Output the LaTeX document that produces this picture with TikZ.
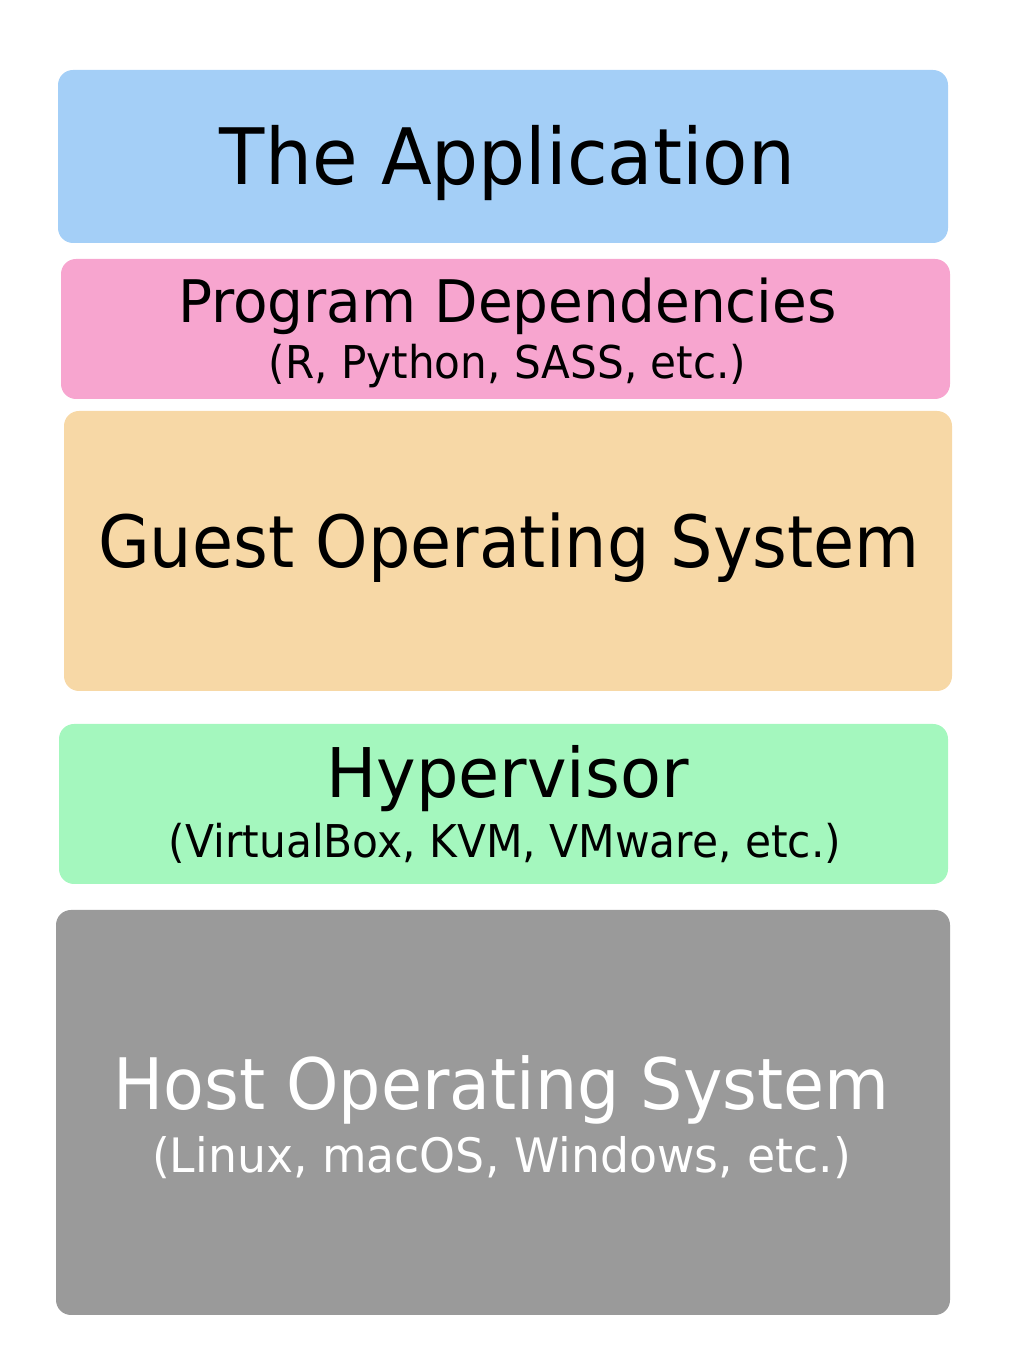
\documentclass[tikz,border=0pt]{standalone}
\usepackage{fontspec}
\setmainfont{DejaVu Sans}
\usetikzlibrary{positioning}
\definecolor{AzulCapa}{HTML}{A4CFF7}
\definecolor{RosaCapa}{HTML}{F7A5CF}
\definecolor{NaranjaCapa}{HTML}{F7D8A6}
\definecolor{VerdeCapa}{HTML}{A4F7BE}
\definecolor{GrisCapa}{HTML}{9A9A9A}
% tamano y ancho de letra
\newcommand{\tam}[2]{\fontsize{#1}{1.2\dimexpr#1\relax}\addfontfeatures{FakeStretch=#2}\selectfont}

\begin{document}
\begin{tikzpicture}[
  capa/.style={rounded corners=0.3cm,draw=none,inner sep=0pt},
  titulo/.style={anchor=base,inner sep=0pt},
  sub/.style={anchor=base,inner sep=0pt}
]
  \useasboundingbox (0,0) rectangle (20.26,27);
  % capas
  \path[capa,fill=AzulCapa]    (1.16,22.14) rectangle (18.96,25.60);
  \path[capa,fill=RosaCapa]    (1.22,19.02) rectangle (19.00,21.82);
  \path[capa,fill=NaranjaCapa] (1.28,13.18) rectangle (19.04,18.78);
  \path[capa,fill=VerdeCapa]   (1.18,9.32)  rectangle (18.96,12.52);
  \path[capa,fill=GrisCapa]    (1.12,0.70)  rectangle (19.00,8.80);

  \node[titulo,font=\tam{44.3pt}{0.952}] (app) at (10.15,23.30) {The Application};
  \node[titulo,font=\tam{33.4pt}{0.963}] (deps) at (10.15,20.54) {Program Dependencies};
  \node[sub,font=\tam{25.7pt}{0.933}] (depsej) at (10.15,19.42) {(R, Python, SASS, etc.)};
  \node[titulo,font=\tam{41pt}{0.927}] (guest) at (10.18,15.64) {Guest Operating System};
  \node[titulo,font=\tam{39pt}{0.976}] (hyper) at (10.15,11.04) {Hypervisor};
  \node[sub,font=\tam{25.7pt}{0.938}] (hyperej) at (10.10,9.84) {(VirtualBox, KVM, VMware, etc.)};
  \node[titulo,font=\tam{40.4pt}{0.939},white] (host) at (10.03,4.80) {Host Operating System};
  \node[sub,font=\tam{27pt}{0.964},white] (hostej) at (10.03,3.54) {(Linux, macOS, Windows, etc.)};
\end{tikzpicture}
\end{document}
